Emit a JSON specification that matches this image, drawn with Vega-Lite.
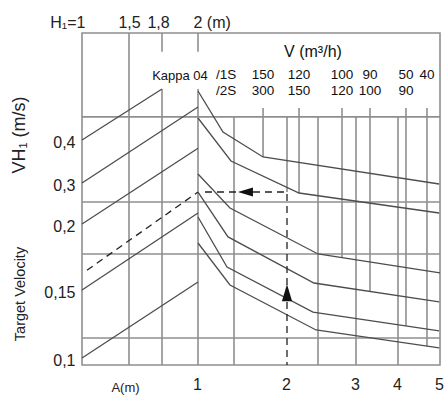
{
  "$schema": "https://vega.github.io/schema/vega-lite/v6.json",
  "width": 358,
  "height": 332,
  "autosize": {"type": "none"},
  "padding": {"left": 82, "top": 33, "right": 5, "bottom": 30},
  "background": "white",
  "config": {
    "view": {"stroke": "#8f8f8f", "strokeWidth": 1.6},
    "font": "Liberation Sans",
    "axis": {
      "domain": false, "ticks": false, "tickSize": 0, "grid": false,
      "labelFont": "Liberation Sans", "labelFontSize": 16, "labelColor": "#222",
      "labelFlush": false, "labelOverlap": false,
      "titleFont": "Liberation Sans", "titleFontWeight": "normal", "titleColor": "#222"
    }
  },
  "datasets": {
    "hgrid": [{"v": 0.454}, {"v": 0.2537}, {"v": 0.1773}, {"v": 0.1147}],
    "leftGrid": [
      {"h": 1.5, "v": 0.095, "v2": 0.65},
      {"h": 1.8, "v": 0.095, "v2": 0.519},
      {"h": 1.8, "v": 0.606, "v2": 0.65},
      {"h": 2, "v": 0.095, "v2": 0.519},
      {"h": 2, "v": 0.606, "v2": 0.65}
    ],
    "leftLines": [
      {"id": "A", "h": 1, "v": 0.4}, {"id": "A", "h": 1.8, "v": 0.519},
      {"id": "B", "h": 1, "v": 0.3}, {"id": "B", "h": 2, "v": 0.477},
      {"id": "C", "h": 1, "v": 0.2}, {"id": "C", "h": 2, "v": 0.381},
      {"id": "D", "h": 1, "v": 0.15}, {"id": "D", "h": 2, "v": 0.2268},
      {"id": "E", "h": 1, "v": 0.1}, {"id": "E", "h": 2, "v": 0.156}
    ],
    "leftExample": [{"h": 1.053, "v": 0.165}, {"h": 2, "v": 0.278}],
    "leftText": [{"h": 1.9, "v": 0.5495, "label": "Kappa 04"}],
    "rightGrid": [
      {"a": 1.5, "v": 0.095, "v2": 0.454},
      {"a": 2, "v": 0.278, "v2": 0.454},
      {"a": 2.5, "v": 0.095, "v2": 0.454},
      {"a": 3, "v": 0.095, "v2": 0.454},
      {"a": 4, "v": 0.095, "v2": 0.454}
    ],
    "vTicks": [
      {"a": 1.774, "v": 0.3605, "v2": 0.475},
      {"a": 2.194, "v": 0.2756, "v2": 0.475},
      {"a": 2.816, "v": 0.1745, "v2": 0.475},
      {"a": 3.333, "v": 0.1489, "v2": 0.475},
      {"a": 4.19, "v": 0.1235, "v2": 0.475},
      {"a": 4.69, "v": 0.1087, "v2": 0.475}
    ],
    "rightCurves": [
      {"id": "R1", "a": 1, "v": 0.5145}, {"id": "R1", "a": 1.347, "v": 0.4187}, {"id": "R1", "a": 1.774, "v": 0.3605}, {"id": "R1", "a": 4.98, "v": 0.2976},
      {"id": "R2", "a": 1, "v": 0.4514}, {"id": "R2", "a": 1.458, "v": 0.3512}, {"id": "R2", "a": 2.194, "v": 0.2756}, {"id": "R2", "a": 4.98, "v": 0.2268},
      {"id": "R3", "a": 1, "v": 0.3209}, {"id": "R3", "a": 1.444, "v": 0.239}, {"id": "R3", "a": 2.5, "v": 0.1773}, {"id": "R3", "a": 5, "v": 0.1629},
      {"id": "R4", "a": 1, "v": 0.278}, {"id": "R4", "a": 1.417, "v": 0.1902}, {"id": "R4", "a": 2.435, "v": 0.1553}, {"id": "R4", "a": 4.98, "v": 0.1412},
      {"id": "R5", "a": 1, "v": 0.2171}, {"id": "R5", "a": 1.403, "v": 0.1674}, {"id": "R5", "a": 2.419, "v": 0.1338}, {"id": "R5", "a": 4.98, "v": 0.1199},
      {"id": "R6", "a": 1, "v": 0.1856}, {"id": "R6", "a": 1.444, "v": 0.1538}, {"id": "R6", "a": 2.468, "v": 0.1206}, {"id": "R6", "a": 4.98, "v": 0.1074}
    ],
    "rightExample": [
      {"k": 1, "a": 1.097, "v": 0.278},
      {"k": 2, "a": 2, "v": 0.278},
      {"k": 3, "a": 2, "v": 0.095}
    ],
    "arrows": [
      {"a": 1.608, "v": 0.278, "dir": "left"},
      {"a": 2, "v": 0.148, "dir": "up"}
    ],
    "header": [
      {"a": 1.389, "v": 0.5519, "label": "/1S"}, {"a": 1.389, "v": 0.5145, "label": "/2S"},
      {"a": 1.774, "v": 0.5519, "label": "150"}, {"a": 1.774, "v": 0.5145, "label": "300"},
      {"a": 2.194, "v": 0.5519, "label": "120"}, {"a": 2.194, "v": 0.5145, "label": "150"},
      {"a": 2.816, "v": 0.5519, "label": "100"}, {"a": 2.816, "v": 0.5145, "label": "120"},
      {"a": 3.333, "v": 0.5519, "label": "90"}, {"a": 3.333, "v": 0.5145, "label": "100"},
      {"a": 4.19, "v": 0.5519, "label": "50"}, {"a": 4.19, "v": 0.5145, "label": "90"},
      {"a": 4.69, "v": 0.5519, "label": "40"}
    ],
    "flowTitle": [{"a": 2.419, "v": 0.6056, "label": "V (m³/h)"}]
  },
  "encoding": {
    "y": {
      "field": "v",
      "type": "quantitative",
      "scale": {
        "domain": [0.095, 0.1, 0.15, 0.2, 0.3, 0.4, 0.65],
        "range": [332, 325, 257, 191, 150, 107, 0],
        "nice": false,
        "zero": false
      },
      "axis": {
        "orient": "left",
        "values": [0.1, 0.15, 0.2, 0.3, 0.4],
        "labelExpr": "replace(format(datum.value, '.2~f'), '.', ',')",
        "labelPadding": 7,
        "labelOffset": 2,
        "labelBaseline": "middle",
        "title": "VH₁  (m/s)",
        "titleFontSize": 18,
        "titleAngle": 270,
        "titleX": -63,
        "titleY": 101.5,
        "titleAlign": "center",
        "titleBaseline": "middle"
      }
    }
  },
  "layer": [
    {
      "data": {"name": "hgrid"},
      "mark": {"type": "rule", "color": "#8f8f8f", "strokeWidth": 1.6}
    },
    {
      "encoding": {
        "x": {
          "field": "h",
          "type": "quantitative",
          "scale": {"domain": [1, 1.5, 1.8, 2], "range": [0, 47, 80, 116], "nice": false, "zero": false},
          "axis": {
            "orient": "top",
            "values": [1, 1.5, 1.8, 2],
            "labelExpr": "datum.value == 1 ? 'H₁=1' : datum.value == 2 ? '2 (m)' : replace(format(datum.value, '.1f'), '.', ',')",
            "labelAlign": {"condition": [{"test": "datum.value == 1", "value": "right"}, {"test": "datum.value == 2", "value": "left"}], "value": "center"},
            "labelOffset": {"condition": [{"test": "datum.value == 1", "value": 3}, {"test": "datum.value == 2", "value": -5}, {"test": "datum.value == 1.8", "value": -4}], "value": 0},
            "labelPadding": 3,
            "title": "Target Velocity",
            "titleFontSize": 14.5,
            "titleAngle": 270,
            "titleX": -62,
            "titleY": 260.5,
            "titleAlign": "center",
            "titleBaseline": "middle"
          }
        }
      },
      "layer": [
        {
          "data": {"name": "leftGrid"},
          "mark": {"type": "rule", "color": "#8f8f8f", "strokeWidth": 1.6},
          "encoding": {"y2": {"field": "v2"}}
        },
        {
          "data": {"name": "leftLines"},
          "mark": {"type": "line", "color": "#4d4d4d", "strokeWidth": 1.3},
          "encoding": {"detail": {"field": "id"}}
        },
        {
          "data": {"name": "leftExample"},
          "mark": {"type": "line", "color": "#222", "strokeWidth": 1.3, "strokeDash": [7, 5]}
        },
        {
          "data": {"name": "leftText"},
          "mark": {"type": "text", "fontSize": 13, "color": "#111", "align": "center", "baseline": "middle"},
          "encoding": {"text": {"field": "label"}}
        }
      ]
    },
    {
      "encoding": {
        "x": {
          "field": "a",
          "type": "quantitative",
          "scale": {"domain": [1, 1.5, 2, 2.5, 3, 4, 5], "range": [116, 152, 205, 236, 274, 316, 358], "nice": false, "zero": false},
          "axis": {
            "orient": "bottom",
            "values": [1, 2, 3, 4, 5],
            "format": "d",
            "labelPadding": 11,
            "labelOffset": -1,
            "title": "A(m)",
            "titleFontSize": 13,
            "titleX": 43,
            "titleY": 22,
            "titleAlign": "center",
            "titleBaseline": "middle",
            "titleAngle": 0
          }
        }
      },
      "layer": [
        {
          "data": {"name": "rightGrid"},
          "mark": {"type": "rule", "color": "#8f8f8f", "strokeWidth": 1.6},
          "encoding": {"y2": {"field": "v2"}}
        },
        {
          "data": {"name": "vTicks"},
          "mark": {"type": "rule", "color": "#8f8f8f", "strokeWidth": 1.6},
          "encoding": {"y2": {"field": "v2"}}
        },
        {
          "data": {"name": "rightCurves"},
          "mark": {"type": "line", "color": "#4d4d4d", "strokeWidth": 1.3},
          "encoding": {"detail": {"field": "id"}}
        },
        {
          "data": {"name": "rightExample"},
          "mark": {"type": "line", "color": "#222", "strokeWidth": 1.3, "strokeDash": [7, 5]},
          "encoding": {"order": {"field": "k"}}
        },
        {
          "data": {"name": "arrows"},
          "transform": [{"filter": "datum.dir == 'left'"}],
          "mark": {"type": "point", "shape": "M-1,0L1,-0.6L1,0.6Z", "size": 225, "filled": true, "color": "#111", "opacity": 1}
        },
        {
          "data": {"name": "arrows"},
          "transform": [{"filter": "datum.dir == 'up'"}],
          "mark": {"type": "point", "shape": "M0,-1L-0.6,1L0.6,1Z", "size": 289, "filled": true, "color": "#111", "opacity": 1}
        },
        {
          "data": {"name": "header"},
          "mark": {"type": "text", "fontSize": 13.5, "color": "#111", "align": "center", "baseline": "middle"},
          "encoding": {"text": {"field": "label"}}
        },
        {
          "data": {"name": "flowTitle"},
          "mark": {"type": "text", "fontSize": 16, "color": "#111", "align": "center", "baseline": "middle"},
          "encoding": {"text": {"field": "label"}}
        }
      ]
    }
  ],
  "resolve": {"scale": {"x": "independent"}, "axis": {"x": "independent"}}
}
